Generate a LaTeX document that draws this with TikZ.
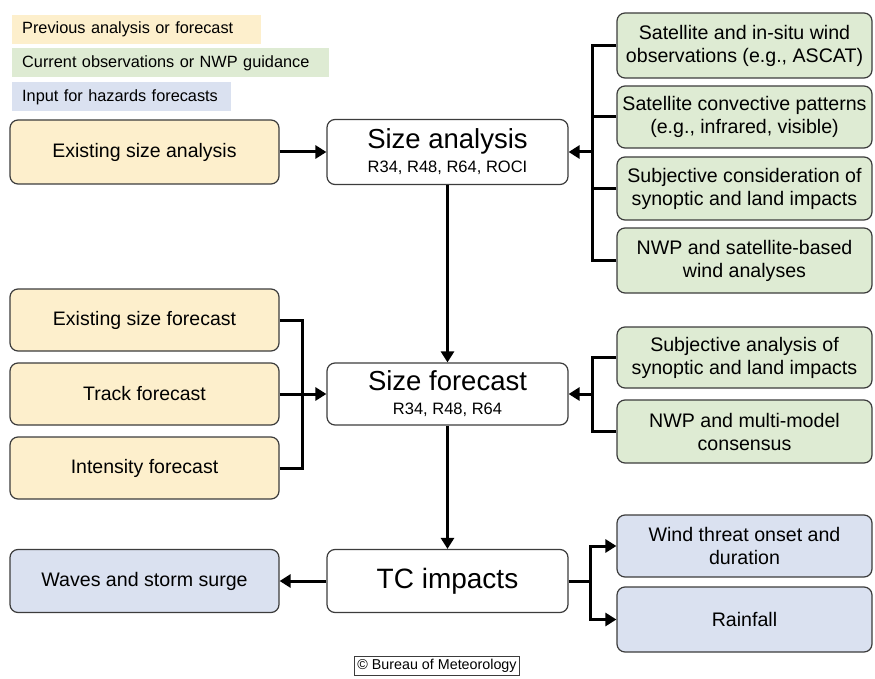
\documentclass[tikz,border=0pt]{standalone}
\usepackage{fontspec}
\setmainfont{Liberation Sans}
\usetikzlibrary{arrows.meta}

\definecolor{prevFill}{RGB}{253,239,204}
\definecolor{obsFill}{RGB}{222,235,211}
\definecolor{hazFill}{RGB}{218,225,240}
\definecolor{boxLine}{RGB}{60,60,60}

\tikzset{
  box/.style={draw=boxLine, line width=1.2pt, rounded corners=8pt,
    align=center, inner sep=1pt},
  prevbox/.style={box, fill=prevFill, minimum width=269pt,
    font=\fontsize{19.5}{23}\selectfont},
  obsbox/.style={box, fill=obsFill, minimum width=255pt,
    font=\fontsize{19.6}{23}\selectfont},
  hazbox/.style={box, fill=hazFill, minimum width=255pt,
    font=\fontsize{19.6}{23}\selectfont},
  mainbox/.style={box, fill=white, minimum width=241pt,
    font=\fontsize{27.5}{24}\selectfont},
  legbox/.style={anchor=west, minimum height=29pt, inner xsep=10pt,
    align=left, font=\fontsize{16.3}{19}\selectfont},
  link/.style={line width=3pt, -{Triangle[width=13pt,length=11pt]}},
  bus/.style={line width=3pt}
}
\newcommand{\ttl}[2]{#1\\{\fontsize{16.5}{18}\selectfont #2}}

\begin{document}
\begin{tikzpicture}[x=1pt, y=-1pt]
  \useasboundingbox (0,0) rectangle (875,679);

  % legend
  \node[legbox, fill=prevFill, text width=229pt] (legPrev) at (12,29.5) {Previous analysis or forecast};
  \node[legbox, fill=obsFill, text width=297pt] (legObs) at (12,63) {Current observations or NWP guidance};
  \node[legbox, fill=hazFill, text width=199pt] (legHaz) at (12,97) {Input for hazards forecasts};

  % left column
  \node[prevbox, minimum height=64pt] (exAna) at (144.5,152) {Existing size analysis};
  \node[prevbox, minimum height=62pt] (exFc) at (144.5,320) {Existing size forecast};
  \node[prevbox, minimum height=62pt] (trFc) at (144.5,394) {Track forecast};
  \node[prevbox, minimum height=62pt] (inFc) at (144.5,468) {Intensity forecast};
  \node[hazbox, minimum width=269pt, minimum height=63pt] (waves) at (144.5,581) {Waves and storm surge};

  % middle column
  \node[mainbox, minimum height=65pt] (szAna) at (447.5,152) {\ttl{Size analysis}{R34, R48, R64, ROCI}};
  \node[mainbox, minimum height=62pt] (szFc) at (447.5,394) {\ttl{Size forecast}{R34, R48, R64}};
  \node[mainbox, minimum height=63pt, font=\fontsize{28}{30}\selectfont] (tcImp) at (447.5,581) {TC impacts};

  % right column
  \node[obsbox, minimum height=65pt] (obsWind) at (744.5,45.5) {Satellite and in-situ wind\\observations (e.g., ASCAT)};
  \node[obsbox, minimum height=62pt] (obsConv) at (744.5,117) {Satellite convective patterns\\(e.g., infrared, visible)};
  \node[obsbox, minimum height=63pt] (obsSubj) at (744.5,188.5) {Subjective consideration of\\synoptic and land impacts};
  \node[obsbox, minimum height=65pt] (obsNwp) at (744.5,260.5) {NWP and satellite-based\\wind analyses};
  \node[obsbox, minimum height=61pt] (fcSubj) at (744.5,357.5) {Subjective analysis of\\synoptic and land impacts};
  \node[obsbox, minimum height=63pt] (fcNwp) at (744.5,431.5) {NWP and multi-model\\consensus};
  \node[hazbox, minimum height=62pt] (hzWind) at (744.5,546) {Wind threat onset and\\duration};
  \node[hazbox, minimum height=65pt] (hzRain) at (744.5,619.5) {Rainfall};

  \node[draw=boxLine, line width=0.8pt, inner sep=3pt, font=\fontsize{14.3}{16}\selectfont] (bom) at (437,666) {\textcopyright{} Bureau of Meteorology};

  % junction points
  \coordinate (busAna) at (592,152);
  \coordinate (busFcL) at (302,394);
  \coordinate (busFcR) at (592,394);
  \coordinate (busImp) at (590,581);

  % size analysis inputs
  \draw[link] (exAna) -- (szAna);
  \foreach \n in {obsWind,obsConv,obsSubj,obsNwp}
    \draw[bus] (\n.west) -| (busAna);
  \draw[link] (busAna) -- (szAna.east);

  % size forecast inputs
  \draw[link] (szAna) -- (szFc);
  \draw[bus] (exFc.east) -| (busFcL);
  \draw[bus] (inFc.east) -| (busFcL);
  \draw[link] (trFc) -- (szFc);
  \foreach \n in {fcSubj,fcNwp}
    \draw[bus] (\n.west) -| (busFcR);
  \draw[link] (busFcR) -- (szFc.east);

  % impacts
  \draw[link] (szFc) -- (tcImp);
  \draw[link] (tcImp) -- (waves);
  \draw[bus] (tcImp.east) -- (busImp);
  \draw[link] (busImp) |- (hzWind.west);
  \draw[link] (busImp) |- (hzRain.west);
\end{tikzpicture}
\end{document}
